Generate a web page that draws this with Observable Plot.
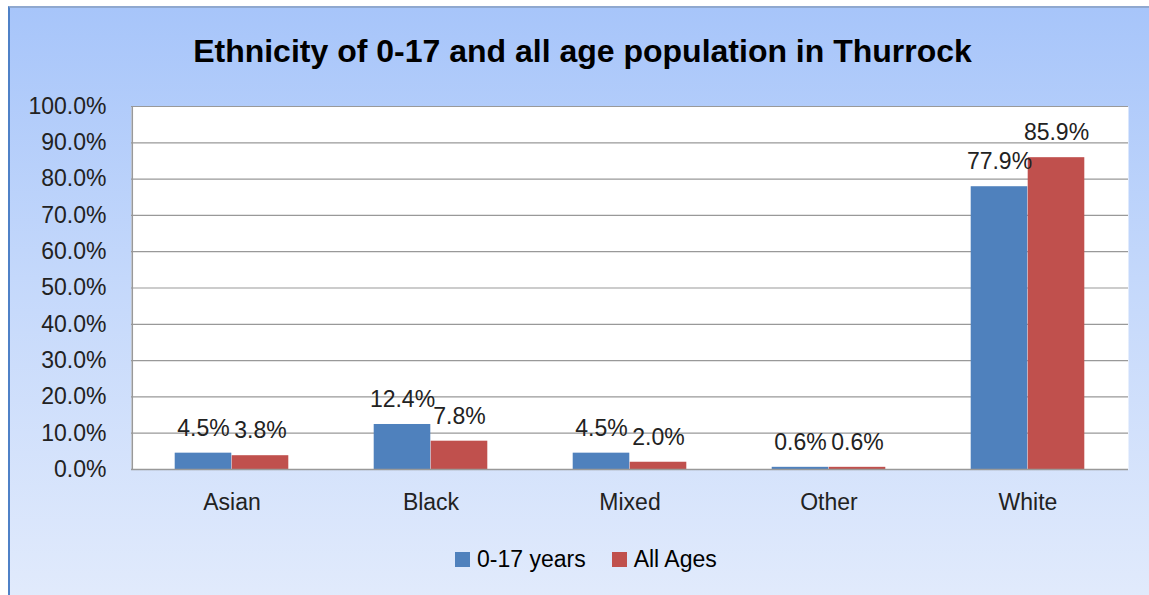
<!DOCTYPE html>
<html>
<head>
<meta charset="utf-8">
<script src="https://cdn.jsdelivr.net/npm/d3@7"></script>
<script src="https://cdn.jsdelivr.net/npm/@observablehq/plot@0.6"></script>
<style>
  html, body { margin: 0; padding: 0; background: #ffffff; width: 1149px; height: 595px; overflow: hidden; }
  #frame {
    position: absolute; left: 8px; top: 6px; width: 1150px; height: 600px;
    border-left: 2px solid #4f81c7; border-top: 2px solid #8fa8cf;
    background: linear-gradient(to bottom, #a7c5fa 0%, #c4d8fb 45%, #e2ebfc 100%);
  }
  #title {
    position: absolute; left: 0; width: 1165px; top: 33px; text-align: center;
    font: bold 32px "Liberation Sans", Arial, sans-serif; color: #000;
  }
  #chart { position: absolute; left: 0; top: 80px; }
  #legend {
    position: absolute; left: 455px; top: 546px; display: flex; align-items: center;
    font: 23px "Liberation Sans", Arial, sans-serif; color: #000;
  }
  .sw { display: inline-block; width: 15px; height: 15px; margin-right: 7px; }
  .item { display: flex; align-items: center; margin-right: 26px; }
</style>
</head>
<body>
<div id="frame"></div>
<div id="title">Ethnicity of 0-17 and all age population in Thurrock</div>
<div id="chart"></div>
<div id="legend"></div>
<script>
const categories = ["Asian", "Black", "Mixed", "Other", "White"];
const seriesNames = ["0-17 years", "All Ages"];
const youth = [0.045, 0.124, 0.045, 0.006, 0.779];
const allAges = [0.038, 0.078, 0.020, 0.006, 0.859];
const yTicks = [0, 0.1, 0.2, 0.3, 0.4, 0.5, 0.6, 0.7, 0.8, 0.9, 1.0];
const colors = ["#4f81bd", "#c0504d"];

const rowsA = categories.map((c, i) => ({cat: c, v: youth[i]}));
const rowsB = categories.map((c, i) => ({cat: c, v: allAges[i]}));

const W = 1149, H = 450;
const mL = 131, mR = 21, mT = 26, mB = 61;
const step = (W - mL - mR) / categories.length;
const barW = 57;
const inset = (step - barW) / 2;
const fmt = d3.format(".1%");
const font = "Liberation Sans, Arial, sans-serif";

const plot = Plot.plot({
  width: W, height: H,
  marginLeft: mL, marginRight: mR, marginTop: mT, marginBottom: mB,
  style: {background: "transparent", fontFamily: font, fontSize: "23px", color: "#000", overflow: "visible"},
  x: {type: "band", domain: categories, padding: 0, label: null},
  y: {domain: [0, 1], label: null},
  marks: [
    Plot.frame({fill: "white", stroke: "none"}),
    Plot.ruleY(yTicks, {stroke: "#999", strokeWidth: 1.2}),
    Plot.ruleX([0], {x: () => categories[0], dx: -step / 2, stroke: "#999", strokeWidth: 1.5}),
    Plot.barY(rowsA, {x: "cat", y: "v", fill: colors[0], dx: -barW / 2, insetLeft: inset, insetRight: inset}),
    Plot.barY(rowsB, {x: "cat", y: "v", fill: colors[1], dx: barW / 2, insetLeft: inset, insetRight: inset}),
    Plot.ruleY([0], {stroke: "#999", strokeWidth: 1.5}),
    Plot.text(rowsA, {x: "cat", y: "v", text: d => fmt(d.v), dx: -barW / 2, dy: -25, fontSize: 23, fill: "#222"}),
    Plot.text(rowsB, {x: "cat", y: "v", text: d => fmt(d.v), dx: barW / 2, dy: -25, fontSize: 23, fill: "#222"}),
    Plot.axisY(yTicks, {tickSize: 0, tickPadding: 25, tickFormat: fmt, fontSize: 23, fill: "#222", label: null}),
    Plot.axisX({tickSize: 0, tickPadding: 24, fontSize: 23, fill: "#222", label: null})
  ]
});
document.getElementById("chart").appendChild(plot);

const legend = document.getElementById("legend");
seriesNames.forEach((name, i) => {
  const item = document.createElement("div");
  item.className = "item";
  const sw = document.createElement("span");
  sw.className = "sw";
  sw.style.background = colors[i];
  item.appendChild(sw);
  item.appendChild(document.createTextNode(name));
  legend.appendChild(item);
});
</script>
</body>
</html>
